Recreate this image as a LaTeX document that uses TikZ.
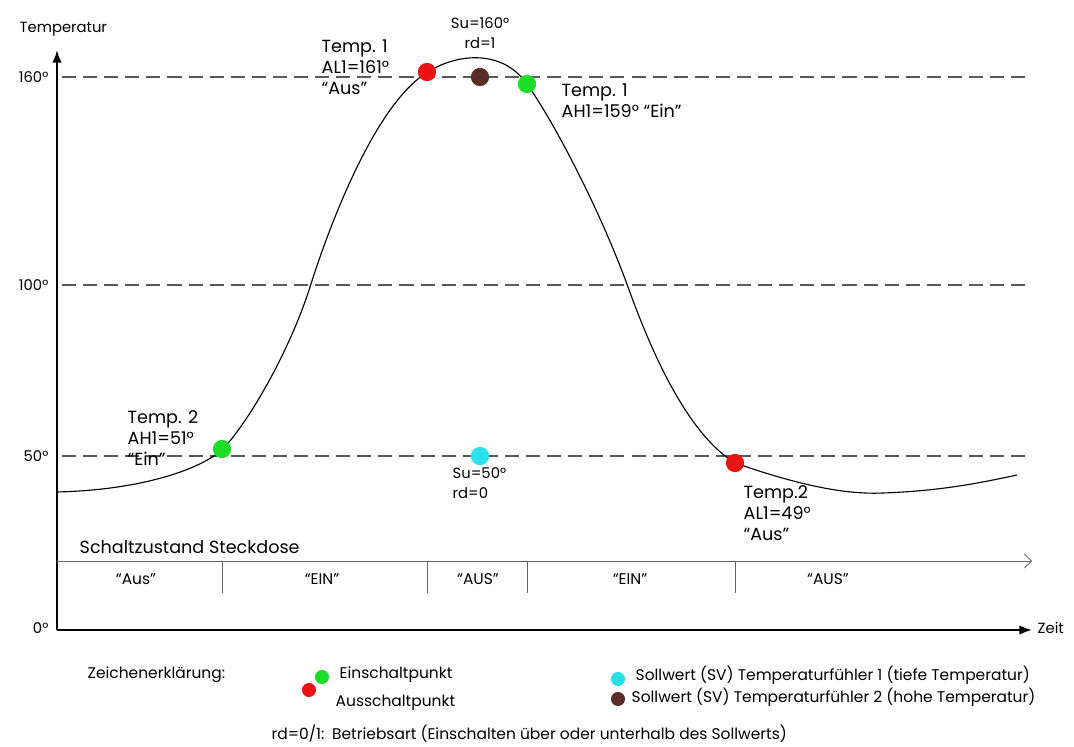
\documentclass[tikz,border=0pt]{standalone}
\usepackage{fontspec}
\setmainfont{Poppins}
\usetikzlibrary{arrows.meta}
\definecolor{ptgreen}{RGB}{30,220,40}
\definecolor{ptred}{RGB}{235,20,20}
\definecolor{ptbrown}{RGB}{90,45,40}
\definecolor{ptcyan}{RGB}{40,225,235}
\tikzset{
  pt/.style={circle, inner sep=0pt, minimum size=13pt},
  lbl/.style={font=\fontsize{12.5}{15}\selectfont, align=left, inner sep=1pt},
  small/.style={font=\fontsize{10.5}{14}\selectfont, inner sep=1pt},
  legend/.style={font=\fontsize{11}{13}\selectfont, inner sep=1pt},
  level/.style={gray!70!black, dash pattern=on 10pt off 5pt, line width=0.9pt},
}
\begin{document}
\begin{tikzpicture}[x=0.025cm, y=-0.025cm]
  \useasboundingbox (0,0) rectangle (1074,747);
  % axes
  \coordinate (o) at (57,630);
  \coordinate (ytop) at (57,50);
  \coordinate (xend) at (1032,630);
  \draw [line width=1.4pt, -{Latex[length=9pt]}] (o) -- (ytop);
  \draw [line width=1.4pt, -{Latex[length=9pt]}] (o) -- (xend);
  \node [small, anchor=south west] (ylab) at (18,38) {Temperatur};
  \node [small, anchor=west] (xlab) at (1036,628) {Zeit};
  % levels
  \foreach \y/\t in {77/160, 285/100, 456/50}
  {
    \node [small, anchor=east] (t\t) at (50,\y) {\t°};
    \draw [level] (62,\y) -- (1032,\y);
  }
  \node [small, anchor=east] (t0) at (50,628) {0°};
  % curve
  \draw [line width=0.8pt] (57,492) .. controls (140,490) and (200,470) .. (223,449)
    .. controls (250,420) and (290,350) .. (310,287)
    .. controls (335,208) and (380,100) .. (428,72)
    .. controls (452,56) and (500,46) .. (527,84)
    .. controls (554,122) and (600,210) .. (628,287)
    .. controls (655,362) and (690,435) .. (735,463)
    .. controls (790,482) and (840,495) .. (883,493)
    .. controls (940,491) and (980,483) .. (1017,475);
  % points
  \node [pt, fill=ptgreen] (on2) at (222,449) {};
  \node [pt, fill=ptred] (off1) at (427,72) {};
  \node [pt, fill=ptbrown] (sv2) at (480,77) {};
  \node [pt, fill=ptgreen] (on1) at (527,84) {};
  \node [pt, fill=ptcyan] (sv1) at (480,456) {};
  \node [pt, fill=ptred] (off2) at (735,463) {};
  % labels
  \node [lbl, anchor=north west] (l_off1) at (320,38) {Temp. 1\\AL1=161°\\“Aus”};
  \node [small, align=center, anchor=south] (l_sv2) at (480,50) {Su=160°\\rd=1};
  \node [lbl, anchor=north west] (l_on1) at (560,82) {Temp. 1\\AH1=159° “Ein”};
  \node [lbl, anchor=north west] (l_on2) at (126,409) {Temp. 2\\AH1=51°\\“Ein”};
  \node [small, align=left, anchor=north west] (l_sv1) at (451,466) {Su=50°\\rd=0};
  \node [lbl, anchor=north west] (l_off2) at (742,484) {Temp.2\\AL1=49°\\“Aus”};
  % switching state
  \coordinate (s0) at (57,561);
  \coordinate (s1) at (1032,561);
  \draw [gray!80!black, line width=0.6pt, -{Straight Barb[length=5pt]}] (s0) -- (s1);
  \node [lbl, anchor=south west] (sz) at (78,555) {Schaltzustand Steckdose};
  \foreach \x in {222, 427, 527, 735}
    \draw [gray!80!black, line width=0.6pt] (\x,561) -- (\x,593);
  \foreach \x/\t/\n in {136/“Aus”/a, 322/“EIN”/b, 478/“AUS”/c, 630/“EIN”/d, 828/“AUS”/e}
    \node [legend] (st\n) at (\x,579) {\t};
  % legend
  \node [legend, anchor=west] (leg) at (86,675) {Zeichenerklärung:};
  \node [pt, fill=ptgreen, minimum size=10pt] (lg1) at (322,677) {};
  \node [legend, anchor=west] (lg1t) at (338,675) {Einschaltpunkt};
  \node [pt, fill=ptred, minimum size=10pt] (lg2) at (309,690) {};
  \node [legend, anchor=west] (lg2t) at (334,703) {Ausschaltpunkt};
  \node [pt, fill=ptcyan, minimum size=10pt] (lg3) at (618,679) {};
  \node [legend, anchor=west] (lg3t) at (634,675) {Sollwert (SV) Temperaturfühler 1 (tiefe Temperatur)};
  \node [pt, fill=ptbrown, minimum size=10pt] (lg4) at (618,699) {};
  \node [legend, anchor=west] (lg4t) at (630,697) {Sollwert (SV) Temperaturfühler 2 (hohe Temperatur)};
  \node [legend, anchor=west] (rd) at (270,734) {rd=0/1:\enspace Betriebsart (Einschalten über oder unterhalb des Sollwerts)};
\end{tikzpicture}
\end{document}
